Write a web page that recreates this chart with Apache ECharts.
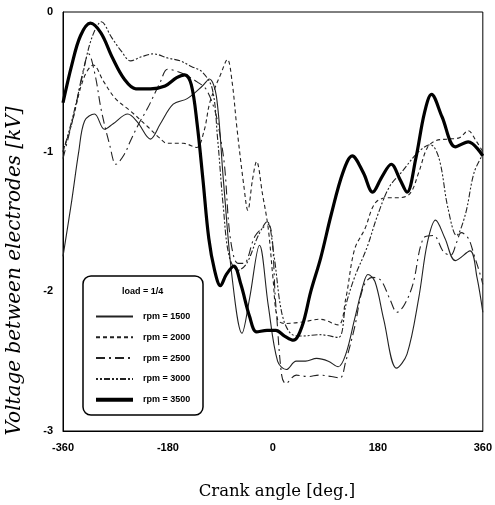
<!DOCTYPE html>
<html>
<head>
<meta charset="utf-8">
<script src="https://cdn.jsdelivr.net/npm/echarts@6/dist/echarts.min.js"></script>
<style>html,body{margin:0;padding:0;background:#fff}#c{width:495px;height:505px}</style>
</head>
<body>
<div id="c"></div>
<script>
// ---- data (crank angle in deg, voltage in kV) ----
const xTicks = [-360, -180, 0, 180, 360];
const yTicks = [0, -1, -2, -3];
const seriesNames = ['rpm = 1500', 'rpm = 2000', 'rpm = 2500', 'rpm = 3000', 'rpm = 3500'];

const ang1500 = [-360,-345,-333,-323,-306,-289,-274,-249,-232,-210,-193,-171,-147,-121,-109,-97,-85,-70,-53,-40,-23,-8,8,23,40,56,75,95,112,125,140,155,163,175,190,212,230,250,265,279,295,313,338,350,360];
const v1500   = [-1.75,-1.35,-1.0,-0.78,-0.73,-0.84,-0.80,-0.73,-0.79,-0.91,-0.80,-0.66,-0.62,-0.53,-0.48,-0.6,-1.2,-1.9,-2.30,-2.05,-1.67,-2.1,-2.5,-2.56,-2.50,-2.50,-2.48,-2.50,-2.54,-2.45,-2.2,-1.95,-1.88,-1.93,-2.2,-2.55,-2.45,-2.05,-1.65,-1.49,-1.62,-1.78,-1.71,-1.9,-2.15];

const ang2000 = [-360,-345,-325,-308,-290,-270,-244,-215,-195,-181,-154,-131,-118,-109,-100,-90,-78,-70,-62,-50,-43,-35,-28,-18,-8,0,8,20,50,80,112,125,140,158,175,195,215,235,250,265,280,300,320,335,348,360];
const v2000   = [-1.0,-0.8,-0.48,-0.38,-0.50,-0.62,-0.71,-0.82,-0.9,-0.94,-0.94,-0.97,-0.85,-0.66,-0.55,-0.45,-0.34,-0.5,-0.82,-1.24,-1.42,-1.2,-1.07,-1.3,-1.55,-1.9,-2.2,-2.23,-2.22,-2.2,-2.24,-2.05,-1.7,-1.55,-1.37,-1.33,-1.33,-1.3,-1.15,-0.97,-0.92,-0.91,-0.9,-0.85,-0.92,-1.0];

const ang2500 = [-360,-340,-327,-316,-305,-294,-280,-269,-255,-244,-230,-215,-193,-181,-168,-150,-130,-115,-100,-92,-83,-73,-60,-50,-30,-8,5,15,22,40,60,80,100,115,125,140,155,170,185,200,213,225,240,258,275,293,305,315,323,335,345,357,360];
const v2500   = [-1.05,-0.71,-0.45,-0.30,-0.45,-0.71,-0.95,-1.09,-1.02,-0.92,-0.8,-0.69,-0.50,-0.41,-0.42,-0.45,-0.5,-0.55,-0.7,-0.85,-1.1,-1.62,-1.8,-1.8,-1.6,-1.52,-2.1,-2.6,-2.66,-2.6,-2.61,-2.6,-2.61,-2.62,-2.5,-2.26,-1.97,-1.9,-1.92,-2.05,-2.15,-2.1,-1.95,-1.62,-1.6,-1.72,-1.74,-1.65,-1.58,-1.62,-1.74,-1.9,-1.95];

const ang3000 = [-360,-345,-328,-311,-294,-277,-260,-244,-225,-205,-180,-159,-140,-121,-104,-95,-85,-75,-60,-45,-25,-10,2,15,30,50,80,112,125,140,161,180,200,220,250,270,285,300,315,330,345,360];
const v3000   = [-1.0,-0.78,-0.48,-0.19,-0.07,-0.18,-0.28,-0.35,-0.32,-0.30,-0.33,-0.35,-0.39,-0.43,-0.55,-0.9,-1.4,-1.75,-1.85,-1.8,-1.6,-1.5,-1.75,-2.15,-2.3,-2.32,-2.31,-2.33,-2.1,-1.9,-1.69,-1.45,-1.25,-1.15,-1.0,-0.95,-1.05,-1.4,-1.6,-1.45,-1.15,-1.02];

const ang3500 = [-360,-345,-330,-313,-295,-275,-255,-235,-210,-185,-165,-151,-140,-130,-120,-110,-100,-90,-80,-67,-55,-40,-28,-10,5,20,35,50,65,82,100,120,136,155,171,187,203,218,230,245,260,272,290,313,335,360];
const v3500   = [-0.65,-0.38,-0.17,-0.08,-0.15,-0.33,-0.48,-0.55,-0.55,-0.53,-0.47,-0.45,-0.52,-0.8,-1.2,-1.62,-1.85,-1.96,-1.88,-1.82,-1.95,-2.18,-2.29,-2.28,-2.28,-2.32,-2.35,-2.25,-2.0,-1.76,-1.45,-1.15,-1.03,-1.15,-1.29,-1.18,-1.09,-1.2,-1.29,-1.05,-0.72,-0.59,-0.75,-0.965,-0.93,-1.03];

const angles = [ang1500, ang2000, ang2500, ang3000, ang3500];
const volts  = [v1500, v2000, v2500, v3000, v3500];

// ---- styles ----
const lineStyles = [
  {width: 1.1, type: 'solid'},
  {width: 1.1, type: [4, 3]},
  {width: 1.1, type: [9, 4, 2, 4]},
  {width: 1.1, type: [2, 2, 2, 2, 6, 2]},
  {width: 3.2, type: 'solid'}
];

const chart = echarts.init(document.getElementById('c'), null, {renderer: 'canvas'});

const series = seriesNames.map((n, i) => ({
  name: n,
  type: 'line',
  smooth: 0.35,
  symbol: 'none',
  showSymbol: false,
  z: i === 4 ? 5 : 3,
  data: angles[i].map((a, k) => [a, volts[i][k]]),
  lineStyle: Object.assign({color: i === 4 ? '#000' : '#222'}, lineStyles[i]),
  itemStyle: {color: '#000'}
}));

chart.setOption({
  animation: false,
  backgroundColor: '#fff',
  grid: {left: 63, right: 5, top: 12, bottom: 70, show: true, borderColor: '#000', borderWidth: 1},
  xAxis: {
    type: 'value', min: xTicks[0], max: xTicks[xTicks.length - 1], interval: 180,
    axisLine: {onZero: false, lineStyle: {color: '#000', width: 1}},
    axisTick: {show: false},
    splitLine: {show: false},
    axisLabel: {color: '#000', fontSize: 11, fontWeight: 'bold', fontFamily: 'Liberation Sans', margin: 11},
    name: 'Crank angle [deg.]', nameLocation: 'middle', nameGap: 52,
    nameTextStyle: {color: '#000', fontSize: 16.5, fontFamily: 'DejaVu Serif', padding: [0, 0, 0, 8]}
  },
  yAxis: {
    type: 'value', min: yTicks[yTicks.length - 1], max: yTicks[0], interval: 1,
    axisLine: {show: true, onZero: false, lineStyle: {color: '#000', width: 1}},
    axisTick: {show: false},
    splitLine: {show: false},
    axisLabel: {color: '#000', fontSize: 11, fontWeight: 'bold', fontFamily: 'Liberation Sans', margin: 10}
  },
  legend: {
    orient: 'vertical', left: 89, top: 307, z: 30,
    itemWidth: 37, itemHeight: 10, itemGap: 11.8,
    itemStyle: {opacity: 0, borderWidth: 0},
    data: seriesNames.map((n, i) => i === 4 ? {name: n, lineStyle: {width: 4}} : {name: n}),
    textStyle: {color: '#000', fontSize: 9, fontWeight: 'bold', fontFamily: 'Liberation Sans Narrow, Liberation Sans', padding: [0, 0, 0, 5]}
  },
  graphic: [
    {type: 'rect', shape: {x: 83, y: 276, width: 120, height: 139, r: 8}, style: {fill: '#fff', stroke: '#000', lineWidth: 1.5}, z: 8},
    {type: 'text', left: 122, top: 287, style: {text: 'load = 1/4', fill: '#000', font: 'bold 9px "Liberation Sans Narrow", "Liberation Sans"'}, z: 31},
    {type: 'text', x: 15, y: 271, rotation: Math.PI / 2, style: {text: 'Voltage between electrodes [kV]', fill: '#000', font: 'italic 20px "DejaVu Serif"', textAlign: 'center', textVerticalAlign: 'middle'}, z: 31}
  ],
  series: series
});
</script>
</body>
</html>
